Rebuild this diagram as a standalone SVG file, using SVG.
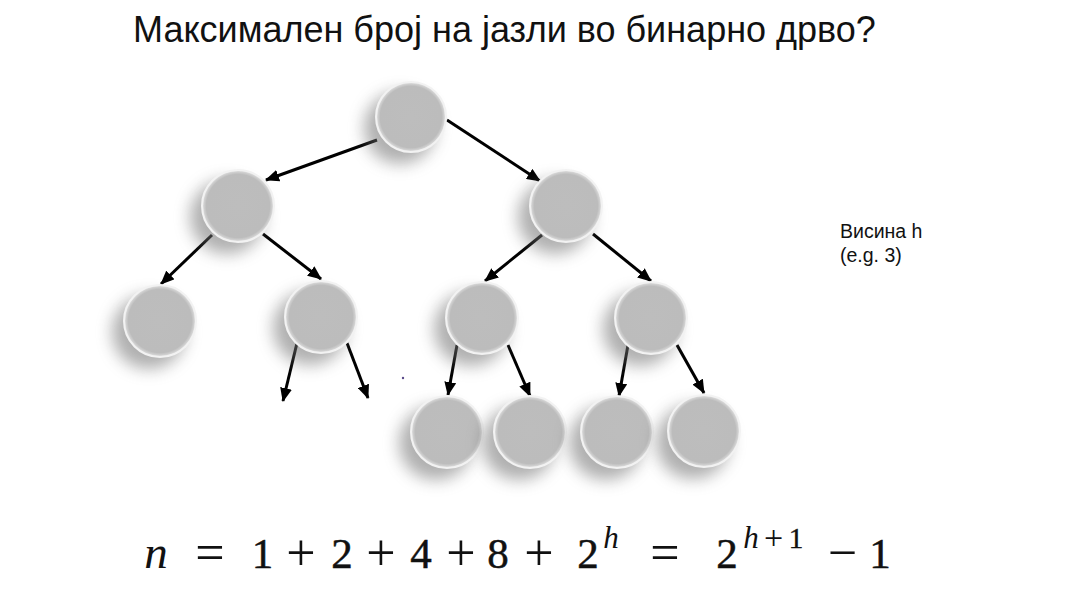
<svg xmlns="http://www.w3.org/2000/svg" width="1081" height="612" viewBox="0 0 1081 612">
<defs>
<style>
.title{font-family:"Liberation Sans",Arial,sans-serif;font-size:36px;fill:#111}
.lbl{font-family:"Liberation Sans",Arial,sans-serif;font-size:19.5px;fill:#111}
.m{font-family:"Liberation Serif","DejaVu Serif",serif;font-size:43px;fill:#111;stroke:#111;stroke-width:0.5;text-anchor:middle}
.op{font-family:"Liberation Serif","DejaVu Serif",serif;font-size:52px;fill:#111;text-anchor:middle}
.mi{font-family:"Liberation Serif","DejaVu Serif",serif;font-size:47px;font-style:italic;fill:#111;text-anchor:middle}
.sup{font-family:"Liberation Serif","DejaVu Serif",serif;font-size:29px;fill:#111;stroke:#111;stroke-width:0.4;text-anchor:middle}
.supop{font-family:"Liberation Serif","DejaVu Serif",serif;font-size:34px;fill:#111;text-anchor:middle}
.supi{font-family:"Liberation Serif","DejaVu Serif",serif;font-size:31px;font-style:italic;fill:#111;text-anchor:middle}
.edge{stroke:#000;stroke-width:3;fill:none;marker-end:url(#ah)}
.node circle.b{fill:url(#ng);stroke:#f2f2f2;stroke-width:2}
.node circle.s{fill:#6e6e6e;opacity:0.55;filter:url(#sh)}
</style>
<marker id="ah" markerUnits="userSpaceOnUse" markerWidth="14" markerHeight="12" refX="13" refY="6" orient="auto">
<path d="M0,0 L14,6 L0,12 z" fill="#000"/>
</marker>
<filter id="sh" x="-60%" y="-60%" width="220%" height="220%">
<feGaussianBlur stdDeviation="8"/>
</filter>
<radialGradient id="ng" cx="50%" cy="50%" r="50%">
<stop offset="0" stop-color="#bdbdbd"/>
<stop offset="0.88" stop-color="#bcbcbc"/>
<stop offset="0.95" stop-color="#d2d2d2"/>
<stop offset="1" stop-color="#f0f0f0"/>
</radialGradient>
</defs>
<rect width="1081" height="612" fill="#ffffff"/>

<text class="title" x="133" y="42">Максимален број на јазли во бинарно дрво?</text>

<g id="connectors">
<line class="edge" x1="377" y1="140" x2="266" y2="180"/>
<line class="edge" x1="447" y1="120" x2="540" y2="181"/>
<line class="edge" x1="212" y1="235" x2="161" y2="284"/>
<line class="edge" x1="263" y1="234" x2="321" y2="279"/>
<line class="edge" x1="542" y1="235" x2="485" y2="281"/>
<line class="edge" x1="593" y1="234" x2="651" y2="281"/>
<line class="edge" x1="297" y1="343" x2="283" y2="401"/>
<line class="edge" x1="347" y1="343" x2="368" y2="398"/>
<line class="edge" x1="457" y1="345" x2="448" y2="395"/>
<line class="edge" x1="508" y1="345" x2="530" y2="396"/>
<line class="edge" x1="628" y1="345" x2="619" y2="396"/>
<line class="edge" x1="677" y1="345" x2="704" y2="393"/>
</g>

<g id="n1" class="node"><circle class="s" cx="400" cy="128" r="36"/><circle class="b" cx="411" cy="117" r="35"/></g>
<g id="n2" class="node"><circle class="s" cx="227" cy="217" r="37"/><circle class="b" cx="238" cy="206" r="36"/></g>
<g id="n3" class="node"><circle class="s" cx="555" cy="217" r="37"/><circle class="b" cx="566" cy="206" r="36"/></g>
<g id="n4" class="node"><circle class="s" cx="149" cy="332" r="37"/><circle class="b" cx="160" cy="321" r="36"/></g>
<g id="n5" class="node"><circle class="s" cx="310" cy="328" r="37"/><circle class="b" cx="321" cy="317" r="36"/></g>
<g id="n6" class="node"><circle class="s" cx="471" cy="329" r="37"/><circle class="b" cx="482" cy="318" r="36"/></g>
<g id="n7" class="node"><circle class="s" cx="640" cy="329" r="37"/><circle class="b" cx="651" cy="318" r="36"/></g>
<g id="n8" class="node"><circle class="s" cx="436" cy="443" r="37"/><circle class="b" cx="447" cy="432" r="36"/></g>
<g id="n9" class="node"><circle class="s" cx="519" cy="443" r="37"/><circle class="b" cx="530" cy="432" r="36"/></g>
<g id="n10" class="node"><circle class="s" cx="606" cy="443" r="37"/><circle class="b" cx="617" cy="432" r="36"/></g>
<g id="n11" class="node"><circle class="s" cx="693" cy="442" r="37"/><circle class="b" cx="704" cy="431" r="36"/></g>

<circle cx="403" cy="378" r="1.2" fill="#5a4a8a"/>

<g id="height-label">
<text class="lbl" x="840" y="238">Висина h</text>
<text class="lbl" x="840" y="262">(e.g. 3)</text>
</g>

<g id="formula">
<text class="mi" x="156" y="568">n</text>
<text class="op" x="210" y="570">=</text>
<text class="m" x="262.5" y="568">1</text>
<text class="op" x="301" y="570">+</text>
<text class="m" x="342" y="568">2</text>
<text class="op" x="381" y="570">+</text>
<text class="m" x="421" y="568">4</text>
<text class="op" x="461" y="570">+</text>
<text class="m" x="498" y="568">8</text>
<text class="op" x="539" y="570">+</text>
<text class="m" x="588" y="568">2</text>
<text class="supi" x="611" y="548">h</text>
<text class="op" x="665" y="570">=</text>
<text class="m" x="727" y="568">2</text>
<text class="supi" x="751" y="548">h</text>
<text class="supop" x="773.5" y="549">+</text>
<text class="sup" x="796" y="548">1</text>
<text class="op" x="842.5" y="570">−</text>
<text class="m" x="880" y="568">1</text>
</g>
</svg>
